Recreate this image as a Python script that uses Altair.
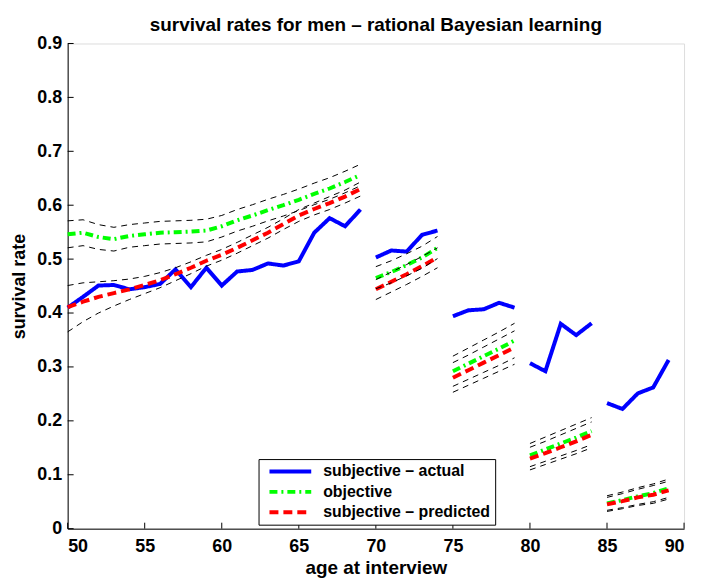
import altair as alt
import pandas as pd

# ---------------- data ----------------
ages_1 = list(range(50, 70))
ages_2 = list(range(70, 75))
ages_3 = list(range(75, 80))
ages_4 = list(range(80, 85))
ages_5 = list(range(85, 90))

actual_1 = [0.410, 0.430, 0.451, 0.452, 0.444, 0.448, 0.454, 0.481, 0.448, 0.484,
            0.451, 0.477, 0.480, 0.492, 0.488, 0.496, 0.549, 0.576, 0.561, 0.592]
objective_1 = [0.546, 0.549, 0.541, 0.537, 0.543, 0.546, 0.549, 0.550, 0.551, 0.553,
               0.561, 0.572, 0.581, 0.591, 0.600, 0.610, 0.621, 0.631, 0.643, 0.656]
predicted_1 = [0.411, 0.421, 0.430, 0.437, 0.444, 0.452, 0.461, 0.472, 0.484, 0.497,
               0.508, 0.521, 0.535, 0.549, 0.565, 0.581, 0.593, 0.604, 0.616, 0.630]
obj_hi_1 = [0.571, 0.573, 0.564, 0.559, 0.564, 0.567, 0.570, 0.571, 0.572, 0.574,
            0.581, 0.592, 0.601, 0.611, 0.620, 0.630, 0.641, 0.651, 0.663, 0.676]
obj_lo_1 = [0.521, 0.525, 0.518, 0.515, 0.522, 0.525, 0.528, 0.529, 0.530, 0.532,
            0.541, 0.552, 0.561, 0.571, 0.580, 0.590, 0.601, 0.611, 0.623, 0.636]
pred_hi_1 = [0.451, 0.456, 0.458, 0.460, 0.463, 0.468, 0.475, 0.484, 0.495, 0.507,
             0.518, 0.531, 0.545, 0.559, 0.575, 0.592, 0.604, 0.616, 0.628, 0.643]
pred_lo_1 = [0.365, 0.384, 0.400, 0.413, 0.425, 0.436, 0.447, 0.460, 0.473, 0.487,
             0.498, 0.511, 0.525, 0.539, 0.555, 0.570, 0.582, 0.592, 0.604, 0.617]

actual_2 = [0.503, 0.516, 0.514, 0.545, 0.553]
objective_2 = [0.465, 0.476, 0.489, 0.503, 0.521]
predicted_2 = [0.444, 0.458, 0.472, 0.487, 0.503]
obj_hi_2 = [0.486, 0.497, 0.510, 0.524, 0.542]
obj_lo_2 = [0.445, 0.456, 0.469, 0.483, 0.501]
pred_hi_2 = [0.462, 0.476, 0.490, 0.505, 0.521]
pred_lo_2 = [0.425, 0.439, 0.453, 0.468, 0.484]

actual_3 = [0.394, 0.405, 0.407, 0.419, 0.410]
objective_3 = [0.292, 0.306, 0.320, 0.334, 0.349]
predicted_3 = [0.280, 0.294, 0.308, 0.322, 0.336]
obj_hi_3 = [0.320, 0.335, 0.350, 0.365, 0.381]
obj_lo_3 = [0.264, 0.277, 0.290, 0.303, 0.317]
pred_hi_3 = [0.308, 0.322, 0.337, 0.352, 0.367]
pred_lo_3 = [0.253, 0.266, 0.279, 0.292, 0.305]

actual_4 = [0.307, 0.292, 0.380, 0.359, 0.381]
objective_4 = [0.136, 0.147, 0.158, 0.169, 0.181]
predicted_4 = [0.130, 0.140, 0.151, 0.162, 0.174]
obj_hi_4 = [0.158, 0.170, 0.182, 0.194, 0.206]
obj_lo_4 = [0.115, 0.125, 0.135, 0.145, 0.156]
pred_hi_4 = [0.151, 0.162, 0.174, 0.186, 0.198]
pred_lo_4 = [0.109, 0.119, 0.129, 0.139, 0.150]

actual_5 = [0.233, 0.222, 0.251, 0.262, 0.313]
objective_5 = [0.047, 0.053, 0.060, 0.066, 0.075]
predicted_5 = [0.045, 0.051, 0.058, 0.063, 0.071]
obj_hi_5 = [0.061, 0.068, 0.076, 0.083, 0.092]
obj_lo_5 = [0.034, 0.039, 0.045, 0.050, 0.058]
pred_hi_5 = [0.058, 0.065, 0.073, 0.080, 0.088]
pred_lo_5 = [0.032, 0.037, 0.043, 0.047, 0.055]

series_names = ["subjective \u2013 actual", "objective", "subjective \u2013 predicted"]
series_colors = ["#0000ff", "#00ff00", "#ff0000"]
series_dashes = [[1, 0], [8, 4, 2, 4], [9, 5]]

x_ticks = [50, 55, 60, 65, 70, 75, 80, 85, 90]
y_ticks = [0.0, 0.1, 0.2, 0.3, 0.4, 0.5, 0.6, 0.7, 0.8, 0.9]

# ---------------- tables ----------------
segments = [
    (ages_1, actual_1, objective_1, predicted_1, obj_hi_1, obj_lo_1, pred_hi_1, pred_lo_1),
    (ages_2, actual_2, objective_2, predicted_2, obj_hi_2, obj_lo_2, pred_hi_2, pred_lo_2),
    (ages_3, actual_3, objective_3, predicted_3, obj_hi_3, obj_lo_3, pred_hi_3, pred_lo_3),
    (ages_4, actual_4, objective_4, predicted_4, obj_hi_4, obj_lo_4, pred_hi_4, pred_lo_4),
    (ages_5, actual_5, objective_5, predicted_5, obj_hi_5, obj_lo_5, pred_hi_5, pred_lo_5),
]

line_rows = []
band_rows = []
for si, (ages, act, obj, pred, ohi, olo, phi, plo) in enumerate(segments):
    for name, vals in zip(series_names, (act, obj, pred)):
        for a, v in zip(ages, vals):
            line_rows.append({"age": a, "rate": v, "series": name, "seg": si})
    for bname, vals in (("ohi", ohi), ("olo", olo), ("phi", phi), ("plo", plo)):
        for a, v in zip(ages, vals):
            band_rows.append({"age": a, "rate": v, "band": bname, "seg": si})

lines_df = pd.DataFrame(line_rows)
bands_df = pd.DataFrame(band_rows)
xt_df = pd.DataFrame({"t": x_ticks})
yt_df = pd.DataFrame({"t": y_ticks})

W, H = 620, 488
FONT = "Liberation Sans"

x_scale = alt.Scale(domain=[50, 90], nice=False, zero=False)
y_scale = alt.Scale(domain=[0, 0.9], nice=False, zero=False)

x_axis = alt.Axis(values=x_ticks, title="age at interview", grid=False, ticks=False,
                  domain=True, domainColor="black", labelFontSize=18, labelFontWeight="bold",
                  labelColor="black", labelPadding=9, titleFontSize=19, titleFontWeight="bold",
                  titleColor="black", titlePadding=3, labelFont=FONT, titleFont=FONT)
y_axis = alt.Axis(values=y_ticks, title="survival rate", grid=False, ticks=False,
                  domain=True, domainColor="black", labelFontSize=18, labelFontWeight="bold",
                  labelColor="black", labelPadding=6, titleFontSize=18, titleFontWeight="bold",
                  titleColor="black", titlePadding=8, labelFont=FONT, titleFont=FONT,
                  labelExpr="datum.value == 0 ? '0' : format(datum.value, '.1f')")

legend = alt.Legend(title=None, orient="none", legendX=192, legendY=418,
                    strokeColor="black", fillColor="white", padding=4,
                    symbolType="stroke", symbolSize=1764, symbolStrokeWidth=4,
                    symbolOffset=5, labelOffset=10, clipHeight=17,
                    labelFontSize=16, labelFontWeight="bold", labelFont=FONT,
                    labelColor="black", labelLimit=400, rowPadding=3.5, cornerRadius=0)

color_enc = alt.Color("series:N", scale=alt.Scale(domain=series_names, range=series_colors),
                      legend=legend, sort=series_names)
dash_enc = alt.StrokeDash("series:N", scale=alt.Scale(domain=series_names, range=series_dashes),
                          legend=legend, sort=series_names)

base = alt.Chart(lines_df)


def series_layer(name):
    return base.transform_filter(alt.datum.series == name).mark_line(strokeWidth=4).encode(
        x=alt.X("age:Q", scale=x_scale, axis=x_axis),
        y=alt.Y("rate:Q", scale=y_scale, axis=y_axis),
        color=color_enc,
        strokeDash=dash_enc,
        detail="seg:N",
    )


bands = alt.Chart(bands_df).mark_line(strokeWidth=1, color="black", strokeDash=[6, 5]).encode(
    x=alt.X("age:Q", scale=x_scale),
    y=alt.Y("rate:Q", scale=y_scale),
    detail=alt.Detail(["seg:N", "band:N"]),
)

xticks = alt.Chart(xt_df).mark_rule(color="black", strokeWidth=1).encode(
    x=alt.X("t:Q", scale=x_scale),
    y=alt.value(H),
    y2=alt.value(H - 6),
)
yticks = alt.Chart(yt_df).mark_rule(color="black", strokeWidth=1).encode(
    y=alt.Y("t:Q", scale=y_scale),
    x=alt.value(0),
    x2=alt.value(6),
)

chart = alt.layer(
    series_layer(series_names[0]),
    series_layer(series_names[1]),
    series_layer(series_names[2]),
    bands,
    xticks,
    yticks,
).properties(
    width=W,
    height=H,
    title=alt.TitleParams("survival rates for men \u2013 rational Bayesian learning",
                          fontSize=19, fontWeight="bold", font=FONT, color="black",
                          anchor="middle", frame="group", offset=4, dy=4),
    autosize=alt.AutoSizeParams(type="none"),
    padding={"left": 60, "top": 34, "right": 10, "bottom": 60},
).configure_view(stroke=None).configure(background="white")

chart.save("out.html", embed_options={"renderer": "svg", "actions": False})
